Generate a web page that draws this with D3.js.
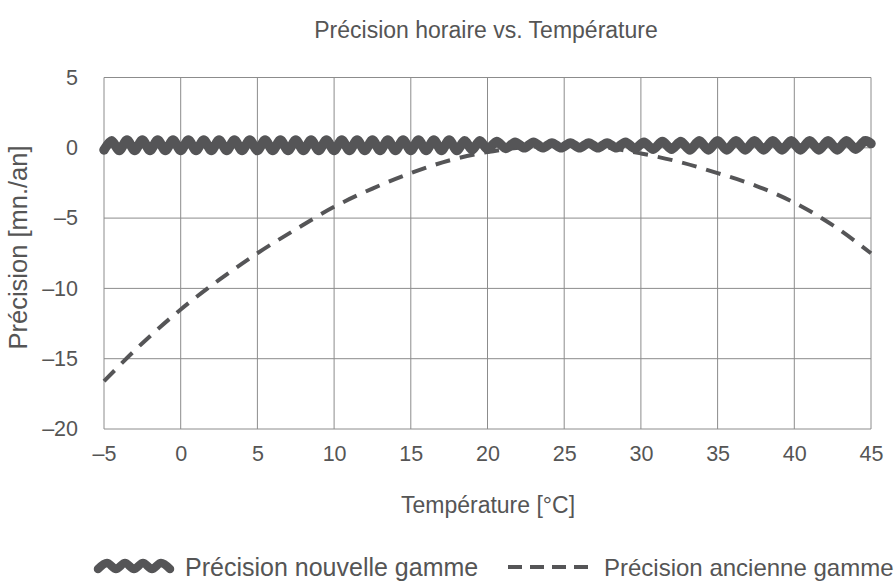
<!DOCTYPE html>
<html>
<head>
<meta charset="utf-8">
<script src="https://cdn.jsdelivr.net/npm/d3@7"></script>
<style>
  body { margin: 0; background: #fff; }
  svg { font-family: "Liberation Sans", Arial, sans-serif; }
</style>
</head>
<body>
<svg width="894" height="584"></svg>
<script>
'use strict';

// nouvelle gamme: small wobble around 0
var tempsNew = [-5, -4.5, -4, -3.5, -3, -2.5, -2, -1.5, -1, -0.5, 0, 0.5, 1, 1.5, 2, 2.5, 3, 3.5, 4, 4.5,
                5, 5.5, 6, 6.5, 7, 7.5, 8, 8.5, 9, 9.5, 10, 10.5, 11, 11.5, 12, 12.5, 13, 13.5, 14, 14.5,
                15, 15.5, 16, 16.5, 17, 17.5, 18, 18.5, 19, 19.5, 20, 20.6, 21.2, 21.8, 22.4, 23, 23.6, 24.2, 24.8, 25.4,
                26, 26.6, 27.2, 27.8, 28.4, 29, 29.6, 30.2, 30.8, 31.4, 32, 32.6, 33.2, 33.8, 34.4, 35,
                35.6, 36.2, 36.8, 37.4, 38, 38.6, 39.2, 39.8, 40.4, 41, 41.6, 42.2, 42.8, 43.4, 44, 44.6, 45];
var valuesNew = [-0.15, 0.5, -0.2, 0.55, -0.2, 0.55, -0.2, 0.55, -0.2, 0.55, -0.2, 0.55, -0.2, 0.55, -0.2, 0.55, -0.2, 0.55, -0.2, 0.55,
                 -0.2, 0.55, -0.2, 0.55, -0.2, 0.55, -0.2, 0.55, -0.2, 0.55, -0.2, 0.55, -0.2, 0.55, -0.2, 0.55, -0.2, 0.55, -0.2, 0.55,
                 -0.2, 0.55, -0.2, 0.55, -0.2, 0.55, -0.2, 0.5, -0.15, 0.5, -0.1, 0.45, -0.05, 0.4, 0.0, 0.4, 0.0, 0.35, 0.0, 0.35,
                 0.0, 0.35, 0.0, 0.35, 0.0, 0.4, -0.05, 0.4, -0.1, 0.45, -0.1, 0.45, -0.15, 0.5, -0.15, 0.5,
                 -0.15, 0.5, -0.15, 0.5, -0.15, 0.5, -0.15, 0.5, -0.15, 0.5, -0.15, 0.5, -0.15, 0.5, -0.1, 0.5, 0.3];

// ancienne gamme: parabola-ish curve
var tempsOld = [-5, -2.5, 0, 2.5, 5, 7.5, 10, 12.5, 15, 17.5, 20, 22.5, 25, 27.5, 30, 32.5, 35, 37.5, 40, 42.5, 45];
var valuesOld = [-16.6, -13.9, -11.5, -9.4, -7.5, -5.8, -4.2, -2.9, -1.8, -0.9, -0.3, 0.05, 0.2, 0.05, -0.4, -1.0, -1.8, -2.7, -3.9, -5.5, -7.5];

var xTicks = [-5, 0, 5, 10, 15, 20, 25, 30, 35, 40, 45];
var yTicks = [-20, -15, -10, -5, 0, 5];

var lineColor = '#555557';
var gridColor = '#8c8c8c';
var textColor = '#555';

var svg = d3.select('svg');

var x = d3.scaleLinear().domain([-5, 45]).range([104, 871]);
var y = d3.scaleLinear().domain([-20, 5]).range([429, 77.5]);

function fmt(d) { return d < 0 ? '\u2013' + Math.abs(d) : '' + d; }

// grid
var grid = svg.append('g');
grid.selectAll('.vg').data(xTicks).enter().append('line')
    .attr('x1', function(d){ return x(d); }).attr('x2', function(d){ return x(d); })
    .attr('y1', y(5)).attr('y2', y(-20))
    .attr('stroke', gridColor).attr('stroke-width', 1);
grid.selectAll('.hg').data(yTicks).enter().append('line')
    .attr('x1', x(-5)).attr('x2', x(45))
    .attr('y1', function(d){ return y(d); }).attr('y2', function(d){ return y(d); })
    .attr('stroke', gridColor).attr('stroke-width', 1);

// axes (labels only)
var xAxis = d3.axisBottom(x).tickValues(xTicks).tickFormat(fmt).tickSize(0).tickPadding(17);
var gx = svg.append('g').attr('transform', 'translate(0,' + y(-20) + ')').call(xAxis);
var yAxis = d3.axisLeft(y).tickValues(yTicks).tickFormat(fmt).tickSize(0).tickPadding(26);
var gy = svg.append('g').attr('transform', 'translate(' + x(-5) + ',0)').call(yAxis);
[gx, gy].forEach(function(g){
    g.select('.domain').remove();
    g.selectAll('text').attr('fill', textColor).style('font-size', '21.5px')
        .style('font-family', '"Liberation Sans", Arial, sans-serif');
});

// lines
var lineOld = d3.line()
    .x(function(d){ return x(d[0]); }).y(function(d){ return y(d[1]); })
    .curve(d3.curveMonotoneX);
svg.append('path')
    .datum(d3.zip(tempsOld, valuesOld))
    .attr('d', lineOld)
    .attr('fill', 'none').attr('stroke', lineColor)
    .attr('stroke-width', 4).attr('stroke-dasharray', '15,10');

var lineNew = d3.line()
    .x(function(d){ return x(d[0]); }).y(function(d){ return y(d[1]); })
    .curve(d3.curveCardinal.tension(0.2));
svg.append('path')
    .datum(d3.zip(tempsNew, valuesNew))
    .attr('d', lineNew)
    .attr('fill', 'none').attr('stroke', lineColor)
    .attr('stroke-width', 9.5).attr('stroke-linecap', 'round').attr('stroke-linejoin', 'round');

// titles
svg.append('text').attr('x', 486).attr('y', 38).attr('text-anchor', 'middle')
    .attr('fill', textColor).style('font-size', '23px')
    .text('Précision horaire vs. Température');
svg.append('text').attr('x', 488).attr('y', 513).attr('text-anchor', 'middle')
    .attr('fill', textColor).style('font-size', '23px')
    .text('Température [°C]');
svg.append('text').attr('transform', 'translate(27,' + 247.5 + ') rotate(-90)')
    .attr('text-anchor', 'middle')
    .attr('fill', textColor).style('font-size', '25.5px')
    .text('Précision [mn./an]');

// legend
var legY = 567;
var waveIcon = [[98, 2], [107, -4], [116, 2], [125, -4], [134, 2], [143, -4], [152, 2], [161, -4], [170, 2]];
svg.append('path')
    .datum(waveIcon)
    .attr('d', d3.line().x(function(d){ return d[0]; }).y(function(d){ return legY + d[1]; }).curve(d3.curveCardinal))
    .attr('fill', 'none').attr('stroke', lineColor).attr('stroke-width', 8.5)
    .attr('stroke-linecap', 'round').attr('stroke-linejoin', 'round');
svg.append('text').attr('x', 185).attr('y', legY + 8.5)
    .attr('fill', textColor).style('font-size', '25px')
    .text('Précision nouvelle gamme');

svg.append('line').attr('x1', 508).attr('x2', 590).attr('y1', legY).attr('y2', legY)
    .attr('stroke', lineColor).attr('stroke-width', 4).attr('stroke-dasharray', '14,8');
svg.append('text').attr('x', 604).attr('y', legY + 8.5)
    .attr('fill', textColor).style('font-size', '24px')
    .text('Précision ancienne gamme');
</script>
</body>
</html>
